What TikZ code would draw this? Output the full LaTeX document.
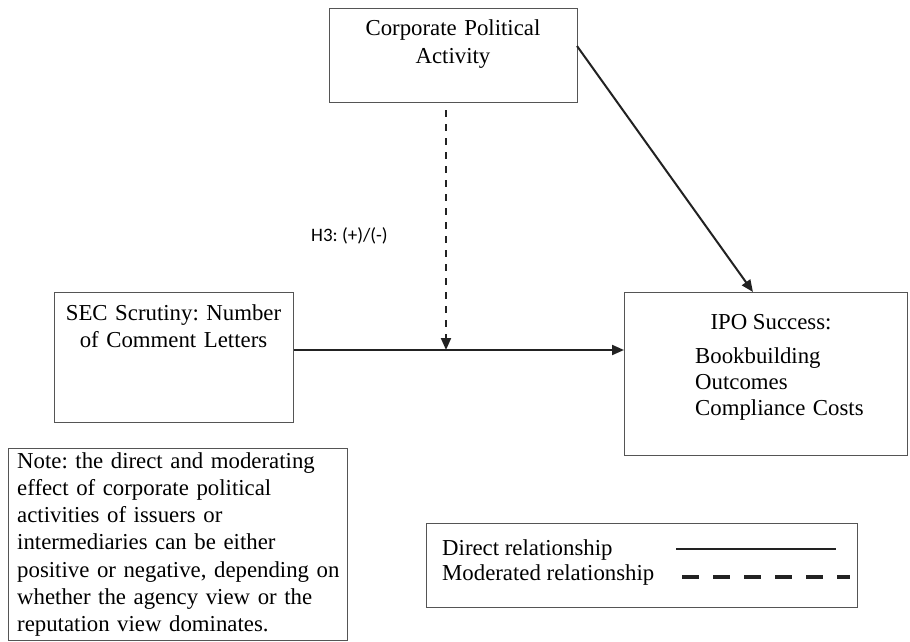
\documentclass[tikz,border=0pt]{standalone}
\usepackage{fontspec}
\setmainfont{Liberation Serif}
\newfontfamily\hfont{Carlito}
\usetikzlibrary{arrows.meta}
\definecolor{boxgray}{RGB}{85,85,85}
\definecolor{linegray}{RGB}{34,34,34}
\frenchspacing
\begin{document}
\begin{tikzpicture}[x=1pt,y=-1pt,
  box/.style={draw=boxgray, line width=1.3pt, inner sep=0pt, anchor=north west},
  txt/.style={inner sep=0pt, font=\fontsize{22.8}{27.3}\selectfont},
  conn/.style={draw=linegray, line width=2pt, -{Triangle[length=12pt,width=10pt]}},
  modline/.style={draw=linegray, line width=2pt, dash pattern=on 7pt off 7pt, -{Triangle[length=12pt,width=10pt]}},
]
\fill[white] (0,0) rectangle (910,642);
\useasboundingbox (0,0) rectangle (910,642);

% boxes
\node[box, minimum width=248pt, minimum height=94pt] (cpa) at (329,8) {};
\node[txt, anchor=base, text width=248pt, align=center] (cpat) at (453,36) {Corporate Political\\Activity};

\node[box, minimum width=239pt, minimum height=130pt] (sec) at (54,292) {};
\node[txt, anchor=base, text width=239pt, align=center] (sect) at (173.5,320) {SEC Scrutiny: Number\\of Comment Letters};

\node[box, minimum width=283pt, minimum height=163pt] (ipo) at (624,292) {};
\node[txt, anchor=base] (ipot) at (771,329) {IPO Success:};
\node[txt, anchor=base west, text width=200pt, align=left, font=\fontsize{22.8}{26}\selectfont] (ipol) at (695,363) {Bookbuilding\\Outcomes\\Compliance Costs};

\node[box, minimum width=339pt, minimum height=192pt] (note) at (8,448) {};
\node[txt, anchor=base west, text width=330pt, align=left] (notet) at (17,468) {Note: the direct and moderating\\effect of corporate political\\activities of issuers or\\intermediaries can be either\\positive or negative, depending on\\whether the agency view or the\\reputation view dominates.};

\node[box, minimum width=431pt, minimum height=84pt] (legend) at (426,523) {};
\node[txt, anchor=base west] (ld) at (442,555) {Direct relationship};
\node[txt, anchor=base west] (lm) at (442,580) {Moderated relationship};

% H3 label
\node[inner sep=0pt, anchor=base west, font=\hfont\fontsize{19}{21}\selectfont] (h3) at (311,241) {H3: (+)/(-)};

% connectors
\coordinate (mod) at (446,350);
\coordinate (mstart) at (446,110);
\coordinate (d1) at (577,46);
\coordinate (d2) at (753,292);
\draw[conn] (sec.east |- mod) -- (ipo.west |- mod);
\draw[conn] (d1) -- (d2);
\draw[modline] (mstart) -- (mod);

% legend samples
\coordinate (ls1) at (676,549);
\coordinate (ls2) at (836,549);
\coordinate (lm1) at (682,577);
\coordinate (lm2) at (850,577);
\draw[linegray, line width=2pt] (ls1) -- (ls2);
\draw[linegray, line width=4pt, dash pattern=on 17pt off 14pt] (lm1) -- (lm2);
\end{tikzpicture}
\end{document}
